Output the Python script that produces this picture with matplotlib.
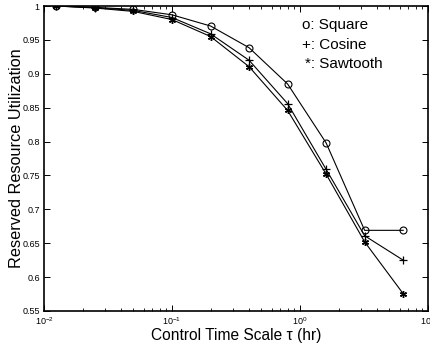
import matplotlib
matplotlib.use("Agg")
import matplotlib.pyplot as plt
from matplotlib.ticker import LogLocator, NullFormatter

plt.rcParams['font.family'] = ['Liberation Sans', 'DejaVu Sans']
plt.rcParams['mathtext.fontset'] = 'custom'
plt.rcParams['mathtext.rm'] = 'Liberation Sans'

tau = [0.0125, 0.025, 0.05, 0.1, 0.2, 0.4, 0.8, 1.6, 3.2, 6.4]
square = [1.0, 0.998, 0.995, 0.987, 0.9705, 0.9385, 0.885, 0.798, 0.669, 0.669]
cosine = [1.0, 0.9975, 0.9935, 0.983, 0.959, 0.920, 0.856, 0.759, 0.661, 0.625]
sawtooth = [1.0, 0.997, 0.992, 0.980, 0.955, 0.9105, 0.846, 0.752, 0.652, 0.5755]
yticks = [0.55, 0.6, 0.65, 0.7, 0.75, 0.8, 0.85, 0.9, 0.95, 1]
ytick_labels = ['0.55', '0.6', '0.65', '0.7', '0.75', '0.8', '0.85', '0.9', '0.95', '1']

fig = plt.figure(figsize=(4.3, 3.45), dpi=100)
ax = fig.add_axes([0.1023, 0.0986, 0.893, 0.884])

ax.plot(tau, square, '-o', color='black', lw=0.8, ms=5, mfc='none', mew=0.8)
ax.plot(tau, cosine, '-+', color='black', lw=0.8, ms=6, mew=0.9)
ax.plot(tau, sawtooth, '-', marker=(6, 2, 0), color='black', lw=0.8, ms=5, mew=1.0)

ax.set_xscale('log')
ax.set_xlim(0.01, 10)
ax.set_ylim(0.55, 1.0)
ax.set_yticks(yticks)
ax.set_yticklabels(ytick_labels)
ax.xaxis.set_major_locator(LogLocator(base=10, numticks=10))
ax.xaxis.set_minor_locator(LogLocator(base=10, subs=range(2, 10), numticks=20))
ax.xaxis.set_minor_formatter(NullFormatter())
ax.tick_params(which='both', direction='in', top=True, right=True, labelsize=6.5, pad=3)
ax.tick_params(which='major', length=4, width=0.7)
ax.tick_params(which='minor', length=2, width=0.6)
for s in ax.spines.values():
    s.set_linewidth(1.2)

ax.set_xlabel('Control Time Scale τ (hr)', fontsize=11.2, labelpad=1)
ax.set_ylabel('Reserved Resource Utilization', fontsize=11.7, labelpad=-1)

ax.text(0.672, 0.938, 'o: Square', transform=ax.transAxes, fontsize=11, va='center')
ax.text(0.672, 0.872, '+: Cosine', transform=ax.transAxes, fontsize=11, va='center')
ax.text(0.68, 0.81, '*: Sawtooth', transform=ax.transAxes, fontsize=11, va='center')

fig.savefig('out.png', dpi=100)
